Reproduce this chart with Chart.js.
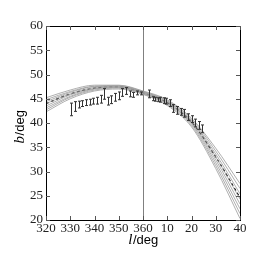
<!DOCTYPE html>
<html>
<head>
<meta charset="utf-8">
<script src="https://cdn.jsdelivr.net/npm/chart.js@4/dist/chart.umd.min.js"></script>
<style>
    html, body { margin: 0; padding: 0; background: #fff; }
    #wrap { width: 266px; height: 266px; }
</style>
</head>
<body>
<div id="wrap"><canvas id="chartLat"></canvas></div>
<script>
// longitude samples for the model curves (360+ means 0..40 deg)
const lonGrid = [320, 330, 340, 350, 360, 370, 380, 390, 400];

// family of model curves (gray) and the best one (dashed)
const modelA = [42.3, 45.0, 46.6, 47.0, 45.9, 43.6, 39.2, 30.6, 20.3];
const modelB = [42.7, 45.3, 46.8, 47.2, 46.0, 43.8, 39.5, 31.2, 21.3];
const modelC = [43.1, 45.5, 47.0, 47.3, 46.1, 44.0, 39.8, 31.8, 22.3];
const modelD = [43.5, 45.8, 47.1, 47.4, 46.2, 44.1, 40.0, 32.4, 23.3];
const modelE = [44.0, 46.0, 47.3, 47.5, 46.3, 44.3, 40.3, 33.0, 24.3];
const modelF = [44.4, 46.3, 47.5, 47.6, 46.4, 44.5, 40.5, 33.6, 25.4];
const modelG = [44.8, 46.5, 47.6, 47.7, 46.5, 44.6, 40.8, 34.2, 26.5];
const modelH = [45.2, 46.8, 47.8, 47.8, 46.6, 44.8, 41.0, 34.8, 27.5];
const bestFit = [44.0, 46.0, 47.2, 47.45, 46.2, 44.2, 40.2, 33.0, 24.6];

// measured points with errors
const obsLon = [330.5, 332, 333.5, 335, 336.5, 338, 339.5, 341, 342.5, 344, 345.5, 347, 348.5, 350, 351.5, 353, 354.5, 356, 357.5, 359,
                362.5, 364, 365, 366, 367, 368.5, 369.5, 371, 372.5, 374, 375.5, 377, 378.5, 380, 381.5, 383, 384.5];
const obsLat = [42.8, 43.4, 43.8, 44.0, 44.2, 44.3, 44.5, 44.6, 44.9, 46.0, 44.5, 44.8, 45.3, 45.6, 46.3, 46.6, 46.0, 45.8, 46.2, 46.1,
                46.0, 45.0, 44.9, 44.8, 44.8, 44.6, 44.5, 44.1, 43.0, 42.6, 42.3, 42.0, 41.2, 40.8, 40.0, 39.5, 38.8];
const obsErr = [1.3, 1.0, 0.7, 0.6, 0.6, 0.6, 0.6, 0.7, 0.8, 1.1, 0.8, 0.8, 0.8, 0.8, 0.8, 0.7, 0.6, 0.5, 0.4, 0.3,
                0.8, 0.4, 0.4, 0.4, 0.5, 0.6, 0.6, 0.7, 0.8, 0.8, 0.7, 0.8, 0.7, 0.7, 0.8, 0.8, 0.8];

const xTicks = [320, 330, 340, 350, 360, 370, 380, 390, 400];
const yTicks = [20, 25, 30, 35, 40, 45, 50, 55, 60];

const toPts = ys => lonGrid.map((l, i) => ({x: l, y: ys[i]}));
const lonLabel = v => (v > 360 ? v - 360 : v).toString();

const grayCurves = [modelA, modelB, modelC, modelD, modelE, modelF, modelG, modelH].map(ys => ({
    data: toPts(ys),
    showLine: true,
    borderColor: '#9a9a9a',
    borderWidth: 0.8,
    pointRadius: 0,
    cubicInterpolationMode: 'monotone'
}));

/*
* рамка, внутренние засечки, линия l=360, ошибки и подписи осей
*/
const framePlugin = {
    id: 'frame',
    beforeDatasetsDraw(chart) {
        const {ctx, chartArea: a, scales: {x, y}} = chart;
        ctx.save();
        ctx.strokeStyle = '#808080';
        ctx.lineWidth = 1;
        const xm = Math.round(x.getPixelForValue(360)) + 0.5;
        ctx.beginPath();
        ctx.moveTo(xm, a.top);
        ctx.lineTo(xm, a.bottom);
        ctx.stroke();
        ctx.restore();
    },
    afterDatasetsDraw(chart) {
        const {ctx, chartArea: a, scales: {x, y}} = chart;
        ctx.save();
        // error bars
        ctx.strokeStyle = '#333';
        ctx.lineWidth = 1;
        obsLon.forEach((l, i) => {
            const px = Math.round(x.getPixelForValue(l)) + 0.5;
            const y1 = y.getPixelForValue(obsLat[i] - obsErr[i]);
            const y2 = y.getPixelForValue(obsLat[i] + obsErr[i]);
            ctx.beginPath();
            ctx.moveTo(px, y1); ctx.lineTo(px, y2);
            ctx.moveTo(px - 1.5, y1); ctx.lineTo(px + 1.5, y1);
            ctx.moveTo(px - 1.5, y2); ctx.lineTo(px + 1.5, y2);
            ctx.stroke();
        });
        // frame
        ctx.strokeStyle = '#000';
        ctx.strokeRect(Math.round(a.left) + 0.5, Math.round(a.top) + 0.5,
                       Math.round(a.right - a.left), Math.round(a.bottom - a.top));
        // inward ticks
        ctx.strokeStyle = '#555';
        ctx.beginPath();
        xTicks.forEach(v => {
            const px = Math.round(x.getPixelForValue(v)) + 0.5;
            ctx.moveTo(px, a.bottom); ctx.lineTo(px, a.bottom - 4);
            ctx.moveTo(px, a.top); ctx.lineTo(px, a.top + 4);
        });
        yTicks.forEach(v => {
            const py = Math.round(y.getPixelForValue(v)) + 0.5;
            ctx.moveTo(a.left, py); ctx.lineTo(a.left + 4, py);
            ctx.moveTo(a.right, py); ctx.lineTo(a.right - 4, py);
        });
        ctx.stroke();
        // axis titles: italic symbol + "/deg"
        ctx.fillStyle = '#000';
        ctx.textBaseline = 'middle';
        const drawTitle = (sym, cx, cy) => {
            ctx.font = 'italic 15px "Liberation Serif"';
            const w1 = ctx.measureText(sym).width;
            ctx.font = '13px "Liberation Sans"';
            const w2 = ctx.measureText('/deg').width;
            let sx = cx - (w1 + w2) / 2;
            ctx.textAlign = 'left';
            ctx.font = 'italic 15px "Liberation Serif"';
            ctx.fillText(sym, sx, cy);
            ctx.font = '13px "Liberation Sans"';
            ctx.fillText('/deg', sx + w1 + 0.5, cy);
        };
        drawTitle('l', (a.left + a.right) / 2, 240);
        ctx.translate(20, (a.top + a.bottom) / 2 + 4);
        ctx.rotate(-Math.PI / 2);
        drawTitle('b', 0, 0);
        ctx.restore();
    }
};

document.addEventListener('DOMContentLoaded', () => {
    new Chart(
        document.querySelector('#chartLat'),
        {
            type: 'scatter',
            data: {
                datasets: [
                    ...grayCurves,
                    {
                        data: toPts(bestFit),
                        showLine: true,
                        borderColor: '#000',
                        borderWidth: 1.2,
                        borderDash: [3, 2.5],
                        pointRadius: 0,
                        cubicInterpolationMode: 'monotone'
                    }
                ]
            },
            options: {
                responsive: true,
                maintainAspectRatio: false,
                animation: false,
                layout: { padding: { top: 26, right: 26, left: 0, bottom: 0 } },
                plugins: { legend: { display: false }, tooltip: { enabled: false } },
                scales: {
                    x: {
                        type: 'linear',
                        min: 320, max: 400,
                        afterFit: s => { s.height = 46; },
                        afterBuildTicks: s => { s.ticks = xTicks.map(v => ({value: v})); },
                        grid: { display: false, drawTicks: false },
                        border: { display: false },
                        ticks: {
                            autoSkip: false, maxRotation: 0, padding: 1,
                            color: '#222',
                            font: { family: '"Liberation Serif"', size: 13 },
                            callback: v => lonLabel(v)
                        }
                    },
                    y: {
                        min: 20, max: 60,
                        afterFit: s => { s.width = 46; },
                        afterBuildTicks: s => { s.ticks = yTicks.map(v => ({value: v})); },
                        grid: { display: false, drawTicks: false },
                        border: { display: false },
                        ticks: {
                            padding: 3,
                            color: '#222',
                            font: { family: '"Liberation Serif"', size: 13 }
                        }
                    }
                }
            },
            plugins: [framePlugin]
        }
    );
});
</script>
</body>
</html>
